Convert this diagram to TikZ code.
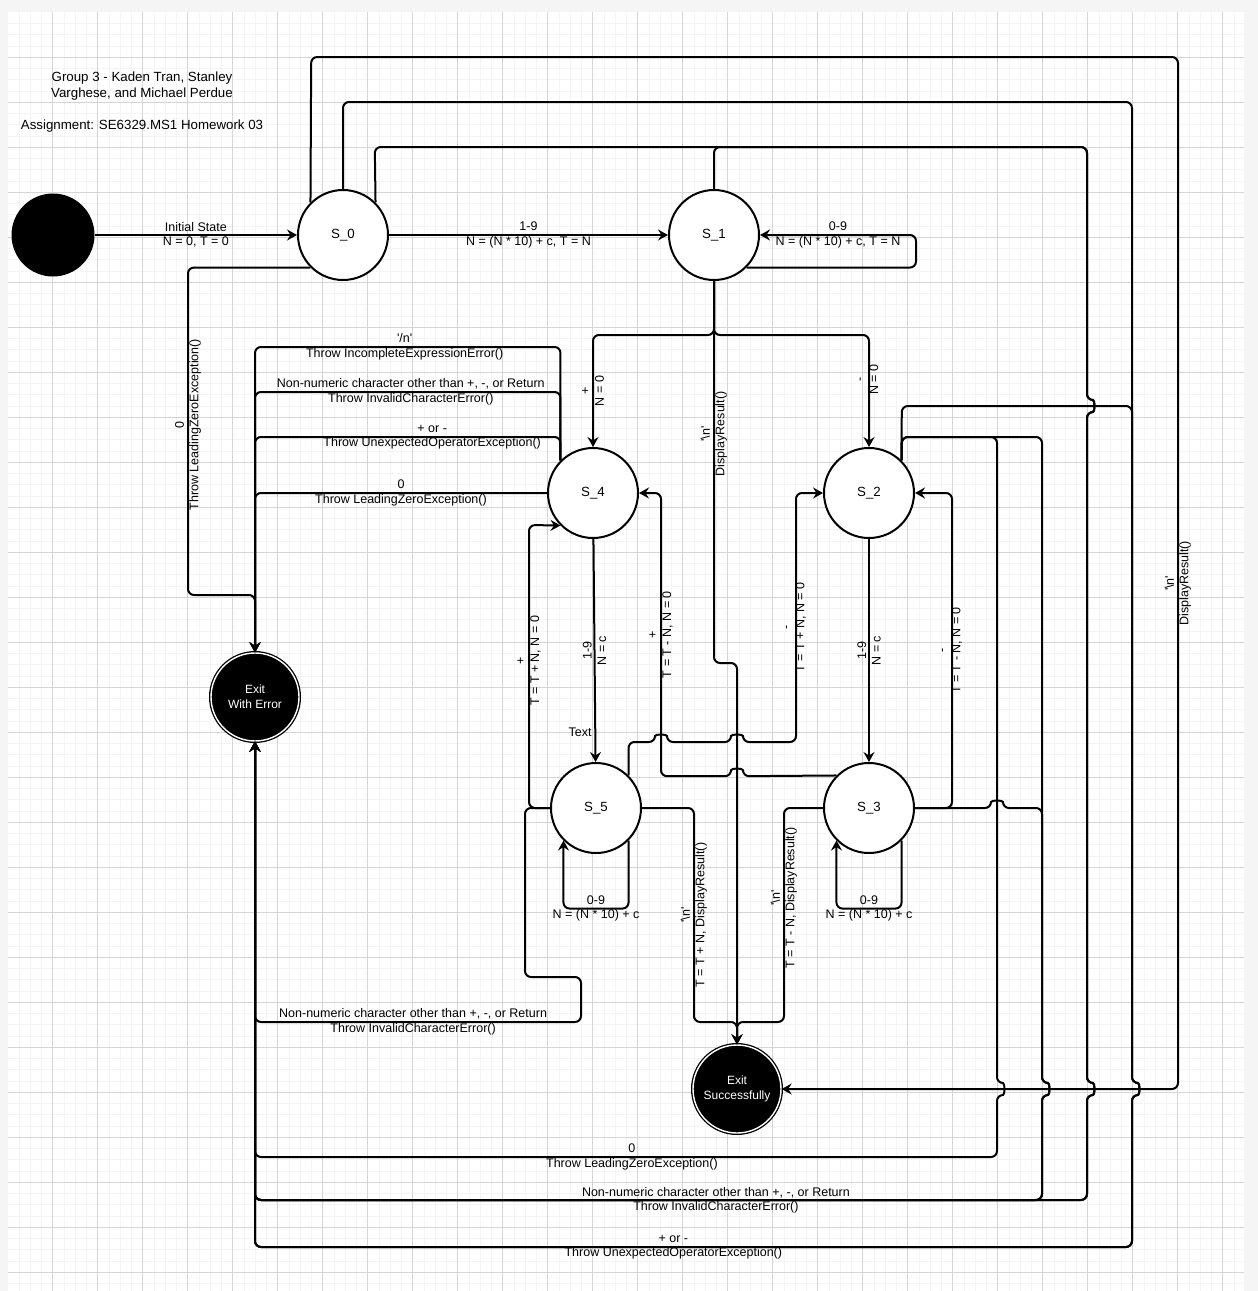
\documentclass[tikz,border=0pt]{standalone}
\usepackage{fontspec}
\setmainfont{Liberation Sans}
\usetikzlibrary{arrows.meta,positioning}
\newcommand{\nlchar}{\textquotesingle\textbackslash n\textquotesingle}
\tikzstyle{statestyle}=[circle,draw=black,line width=2pt,fill=white,minimum size=90pt,inner sep=0pt,font=\fontsize{13.3}{15}\selectfont]
\tikzstyle{exitstyle}=[circle,draw=black,line width=1.3pt,double=white,double distance=1.4pt,fill=black,text=white,minimum size=88pt,inner sep=0pt,align=center,font=\fontsize{12}{15}\selectfont]
\tikzstyle{edgelabel}=[align=center,inner sep=1pt]
\tikzstyle{vlabel}=[edgelabel,rotate=90]
\tikzstyle{minorgrid}=[draw=gray!9,line width=0.8pt]
\tikzstyle{majorgrid}=[draw=gray!33,line width=0.8pt]

\begin{document}
\begin{tikzpicture}[x=1pt,y=-1pt,on grid,font=\fontsize{12.5}{14.5}\selectfont,
	>={Stealth[length=10pt,width=11pt,inset=3.5pt]},
	trans/.style={->,line width=2pt,rounded corners=6pt}]
	\useasboundingbox (0,0) rectangle (1258,1291);
	\fill[gray!8] (0,0) rectangle (1258,1291);
	\fill[white] (7.7,12.3) rectangle (1244,1291);
	\foreach \i in {1,...,109} \draw[minorgrid] ({7.7+11.25*\i},12.3) -- ({7.7+11.25*\i},1291);
	\foreach \j in {1,...,113} \draw[minorgrid] (7.7,{12.3+11.25*\j}) -- (1244,{12.3+11.25*\j});
	\foreach \i in {1,...,27} \draw[majorgrid] ({7.7+45*\i},12.3) -- ({7.7+45*\i},1291);
	\foreach \j in {1,...,28} \draw[majorgrid] (7.7,{12.3+45*\j}) -- (1244,{12.3+45*\j});

	\node[circle,fill=black,minimum size=83pt,inner sep=0pt] (init) at (53,235) {};
	\node[statestyle] (S0) [right=290pt of init] {S\_0};
	\node[statestyle] (S1) [right=371pt of S0] {S\_1};
	\node[statestyle] (S4) [below left=258pt and 121pt of S1] {S\_4};
	\node[statestyle] (S2) [right=276pt of S4] {S\_2};
	\node[statestyle] (S5) [below right=315pt and 3pt of S4] {S\_5};
	\node[statestyle] (S3) [below=315pt of S2] {S\_3};
	\node[exitstyle] (ExitErr) [below left=462pt and 88pt of S0] {Exit\\With Error};
	\node[exitstyle] (ExitOk) [below right=854pt and 23pt of S1] {Exit\\Successfully};
	\node[align=center,font=\fontsize{13.3}{15.5}\selectfont] (group) at (142,86) {Group 3 - Kaden Tran, Stanley\\Varghese, and Michael Perdue};
	\node[font=\fontsize{13.3}{15.5}\selectfont] (assign) at (142,126) {Assignment: SE6329.MS1 Homework 03};
	\node (stray) at (580,732) {Text};

	\draw[trans] (init) -- node[edgelabel]{Initial State\\N = 0, T = 0} (S0);
	\draw[trans] (S0) -- node[edgelabel]{1-9\\N = (N * 10) + c, T = N} (S1);
	\draw[trans] (S1.south east) -| (916,235) -- node[edgelabel]{0-9\\N = (N * 10) + c, T = N} (S1.east);

	\draw[trans] (S1.south) -- (714,335) -| node[vlabel,pos=0.75]{+\\N = 0} (S4.north);
	\draw[trans] (S1.south) -- (714,335) -| node[vlabel,pos=0.7]{-\\N = 0} (S2.north);
	\draw[trans] (S1.south) -- node[vlabel,pos=0.4]{\nlchar\\DisplayResult()} (714,663) -- (737,663) -- (ExitOk.north);
	\draw[trans] (S1.north) -- (714,147) -- (1087,147) -- (1087,400) .. controls (1095,400) and (1095,412) .. (1087,412) -- (1087,1083) .. controls (1095,1083) and (1095,1095) .. (1087,1095) -- (1087,1200) -- (255,1200) -- (ExitErr.south);

	\draw[trans] (S4) -- node[vlabel]{1-9\\N = c} (S5);
	\draw[trans] (S2) -- node[vlabel]{1-9\\N = c} (S3);

	\draw[trans] (S4.north west) |- node[edgelabel,pos=0.755]{\textquotesingle/n\textquotesingle\\Throw IncompleteExpressionError()} (255,347) -- (ExitErr.north);
	\draw[trans] (S4.north west) |- node[edgelabel,pos=0.745]{Non-numeric character other than +, -, or Return\\Throw InvalidCharacterError()} (255,392) -- (ExitErr.north);
	\draw[trans] (S4.north west) |- node[edgelabel,pos=0.71]{+ or -\\Throw UnexpectedOperatorException()} (255,437) -- (ExitErr.north);
	\draw[trans] (S4.west) -- node[edgelabel]{0\\Throw LeadingZeroException()} (255,493) -- (ExitErr.north);

	\draw[trans] (S5.west) -- (529,808) -- node[vlabel,pos=0.52]{+\\T = T + N, N = 0} (529,525) -- (S4.south west);
	\draw[trans] (S5.west) -- (525,808) -- (525,977) -- (581,977) -- (581,1022) -- node[edgelabel,pos=0.515]{Non-numeric character other than +, -, or Return\\Throw InvalidCharacterError()} (255,1022) -- (ExitErr.south);
	\draw[trans] (S5.south east) -- ++(0,68) -| node[edgelabel,pos=0.25]{0-9\\N = (N * 10) + c} (S5.south west);
	\draw[trans] (S5.east) -- (694,808) -- node[vlabel]{\nlchar\\T = T + N, DisplayResult()} (694,1022) -- (737,1022) -- (ExitOk.north);
	\draw[trans] (S5.north east) |- (655,742) .. controls (655,734) and (667,734) .. (667,742) -- (731,742) .. controls (731,734) and (743,734) .. (743,742) -- (796,742) -- node[vlabel,pos=0.46]{-\\T = T + N, N = 0} (796,493) -- (S2.west);

	\draw[trans] (S3.north west) -- (743,776.2) .. controls (743,768) and (731,768) .. (731,776.2) -- (661,776.2) -- node[vlabel]{+\\T = T - N, N = 0} (661,493) -- (S4.east);
	\draw[trans] (S3.east) -- (952,808) -- node[vlabel]{-\\T = T - N, N = 0} (952,493) -- (S2.east);
	\draw[trans] (S3.south east) -- ++(0,68) -| node[edgelabel,pos=0.25]{0-9\\N = (N * 10) + c} (S3.south west);
	\draw[trans] (S3.west) -- (784,808) -- node[vlabel,pos=0.42]{\nlchar\\T = T - N, DisplayResult()} (784,1022) -- (737,1022) -- (ExitOk.north);
	\draw[trans] (S3.east) -- (991,808) .. controls (991,800) and (1003,800) .. (1003,808) -- (1042,808) -- (1042,1083) .. controls (1050,1083) and (1050,1095) .. (1042,1095) -- (1042,1200) -- (255,1200) -- (ExitErr.south);

	\draw[trans] (S2.north east) -- (901.8,437) -- (997,437) -- (997,1083) .. controls (1005,1083) and (1005,1095) .. (997,1095) -- (997,1157) -- node[edgelabel,pos=0.492]{0\\Throw LeadingZeroException()} (255,1157) -- (ExitErr.south);
	\draw[trans] (S2.north east) -- (901.8,437) -- (1042,437) -- (1042,1083) .. controls (1050,1083) and (1050,1095) .. (1042,1095) -- (1042,1200) -- (255,1200) -- (ExitErr.south);
	\draw[trans] (S2.north east) -- (901.8,406) -- (1132,406) -- (1132,1083) .. controls (1140,1083) and (1140,1095) .. (1132,1095) -- (1132,1247) -- (255,1247) -- (ExitErr.south);

	\draw[trans] (S0.south west) -| node[vlabel,pos=0.74]{0\\Throw LeadingZeroException()} (188,595) -| (ExitErr.north);
	\draw[trans] (S0.north west) -- (311.2,57) -- (1178,57) -- node[vlabel,pos=0.51]{\nlchar\\DisplayResult()} (1178,1089) -- (ExitOk.east);
	\draw[trans] (S0.north) -- (343,102) -- (1132,102) -- (1132,1083) .. controls (1140,1083) and (1140,1095) .. (1132,1095) -- (1132,1247) -- node[edgelabel,pos=0.523]{+ or -\\Throw UnexpectedOperatorException()} (255,1247) -- (ExitErr.south);
	\draw[trans] (S0.north east) -- (374.8,147) -- (1087,147) -- (1087,400) .. controls (1095,400) and (1095,412) .. (1087,412) -- (1087,1083) .. controls (1095,1083) and (1095,1095) .. (1087,1095) -- (1087,1200) -- node[edgelabel,pos=0.446]{Non-numeric character other than +, -, or Return\\Throw InvalidCharacterError()} (255,1200) -- (ExitErr.south);
\end{tikzpicture}
\end{document}
